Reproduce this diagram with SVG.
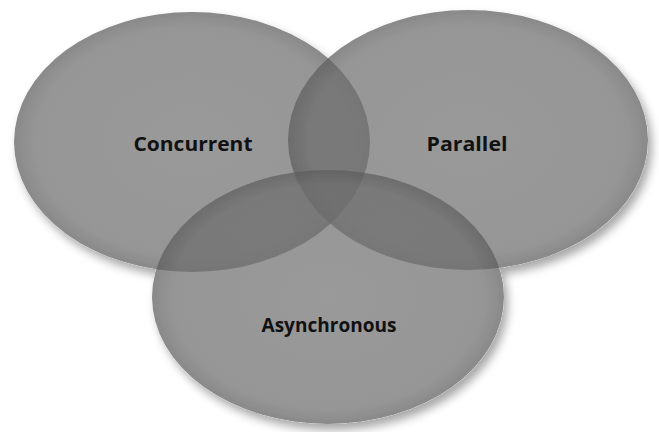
<svg xmlns="http://www.w3.org/2000/svg" width="659" height="432" viewBox="0 0 659 432">
  <defs>
    <radialGradient id="fillG" cx="0.5" cy="0.5" r="0.5">
      <stop offset="0" stop-color="#727272"/>
      <stop offset="0.88" stop-color="#6e6e6e"/>
      <stop offset="1" stop-color="#5c5c5c"/>
    </radialGradient>
    <filter id="shadow" x="-10%" y="-10%" width="125%" height="130%">
      <feDropShadow dx="4" dy="6" stdDeviation="5" flood-color="#000" flood-opacity="0.35"/>
    </filter>
    <filter id="soft" x="-5%" y="-5%" width="110%" height="110%">
      <feGaussianBlur stdDeviation="0.7"/>
    </filter>
  </defs>
  <style>
    .base { fill: #ffffff; }
    .set { fill: url(#fillG); fill-opacity: 0.72; }
    .label { font-family: "Open Sans", "Noto Sans", "DejaVu Sans", sans-serif; font-weight: bold; font-size: 19px; fill: #111111; text-anchor: middle; }
  </style>
  <rect width="659" height="432" fill="#ffffff"/>
  <g id="shadows" filter="url(#shadow)">
    <ellipse class="base" cx="192" cy="142" rx="178" ry="130"/>
    <ellipse class="base" cx="468" cy="140" rx="180" ry="130"/>
    <ellipse class="base" cx="328" cy="297" rx="176" ry="127"/>
  </g>
  <g id="concurrent">
    <ellipse class="set" cx="192" cy="142" rx="178" ry="130" filter="url(#soft)"/>
  </g>
  <g id="parallel">
    <ellipse class="set" cx="468" cy="140" rx="180" ry="130" filter="url(#soft)"/>
  </g>
  <g id="asynchronous">
    <ellipse class="set" cx="328" cy="297" rx="176" ry="127" filter="url(#soft)"/>
  </g>
  <g id="labels">
    <text class="label" x="193" y="151" textLength="119" lengthAdjust="spacingAndGlyphs">Concurrent</text>
    <text class="label" x="467" y="151" textLength="81" lengthAdjust="spacingAndGlyphs">Parallel</text>
    <text class="label" x="329" y="332" textLength="135" lengthAdjust="spacingAndGlyphs">Asynchronous</text>
  </g>
  <g id="connectors"/>
</svg>
